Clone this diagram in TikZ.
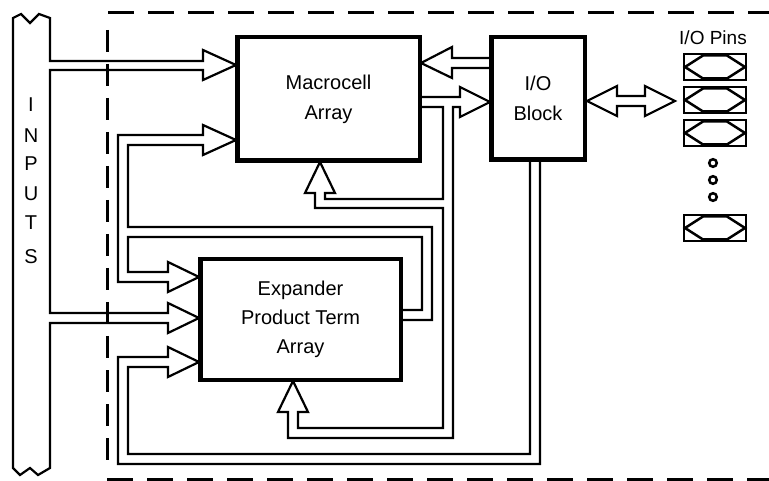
\documentclass[tikz,border=0pt]{standalone}
\usepackage{fontspec}
\setmainfont{Liberation Sans}
\begin{document}
\begin{tikzpicture}[x=1pt,y=-1pt,
  wire/.style={line width=2.2pt, line join=miter, line cap=butt},
  blockbox/.style={draw, line width=4.5pt, inner sep=0pt, align=center, font=\fontsize{20}{30}\selectfont},
  dashline/.style={line width=3pt, dash pattern=on 26pt off 14pt},
  vdashline/.style={line width=3pt, dash pattern=on 22pt off 12pt},
  lbl/.style={font=\fontsize{20}{24}\selectfont, inner sep=0pt},
  pinwire/.style={line width=2.5pt, line join=miter}]
\useasboundingbox (0,0) rectangle (769,481);

% dashed boundary of the device
\draw[dashline] (108,13) -- (769,13);
\draw[dashline] (107,479) -- (769,479);
\draw[vdashline] (107,30) -- (107,468);

% INPUTS bus with arrows to macrocell and expander
\draw[wire] (50,61) -- (50,18) -- (39,14) -- (30,23) -- (21,14) -- (13,18)
  -- (13,468) -- (20,475) -- (30,468) -- (38,475) -- (50,468)
  -- (50,323) -- (168,323) -- (168,333) -- (199,318) -- (168,303) -- (168,313)
  -- (50,313) -- (50,70) -- (203,70) -- (203,80) -- (236,65) -- (203,50) -- (203,61) -- cycle;
\foreach \ch/\yy in {I/105, N/136, P/164, U/194, T/223, S/257}
  \node[lbl] (in\ch) at (31,\yy) {\ch};

% expander feedback loop
\draw[wire] (403,310) -- (422,310) -- (422,237) -- (128,237) -- (128,272) -- (168,272)
  -- (168,262) -- (199,277) -- (168,292) -- (168,282) -- (118,282) -- (118,135)
  -- (203,135) -- (203,125) -- (236,140) -- (203,155) -- (203,145) -- (128,145)
  -- (128,227) -- (432,227) -- (432,320) -- (403,320);

% macrocell outputs
\draw[wire] (422,97) -- (460,97) -- (460,87) -- (490,102) -- (460,117) -- (460,107)
  -- (453,107) -- (453,438) -- (288,438) -- (288,412) -- (278,412) -- (293,381)
  -- (308,412) -- (298,412) -- (298,428) -- (443,428) -- (443,208) -- (315,208)
  -- (315,193) -- (305,193) -- (320,162) -- (335,193) -- (325,193) -- (325,199)
  -- (443,199) -- (443,107) -- (422,107);

% I/O block to macrocell
\draw[wire] (489,58) -- (452,58) -- (452,47) -- (421,63) -- (452,78) -- (452,68) -- (489,68);

% I/O block to expander
\draw[wire] (530,162) -- (530,454) -- (128,454) -- (128,367) -- (168,367) -- (168,377)
  -- (199,362) -- (168,347) -- (168,357) -- (118,357) -- (118,464) -- (540,464) -- (540,162);

% I/O block <-> pins
\draw[wire] (617,96) -- (645,96) -- (645,86) -- (675,101) -- (645,116) -- (645,106)
  -- (617,106) -- (617,116) -- (587,101) -- (617,86) -- cycle;

% blocks
\node[blockbox, minimum width=182.5pt, minimum height=123.5pt] (mac) at (328.5,99)
  {Macrocell\\Array};
\node[blockbox, minimum width=200.5pt, minimum height=120.5pt, font=\fontsize{20}{29}\selectfont] (exp) at (300.5,319.5)
  {Expander\\Product Term\\Array};
\node[blockbox, minimum width=93.5pt, minimum height=122.5pt] (io) at (538,98.5)
  {I/O\\Block};

% I/O pins
\node[lbl, font=\fontsize{19}{22}\selectfont] (pinlabel) at (713,38) {I/O Pins};
\foreach \ya/\yb in {54/80, 87/113, 120/146, 215/241} {
  \draw[pinwire] (684,\ya) rectangle (746,\yb);
  \draw[pinwire] (685,{(\ya+\yb)/2}) -- (703,\ya+1.5) -- (727,\ya+1.5) -- (745,{(\ya+\yb)/2})
    -- (727,\yb-1.5) -- (703,\yb-1.5) -- cycle;
}
\foreach \yy in {163,180,197}
  \draw[line width=2.5pt] (713,\yy) circle (3.8pt);
\end{tikzpicture}
\end{document}
